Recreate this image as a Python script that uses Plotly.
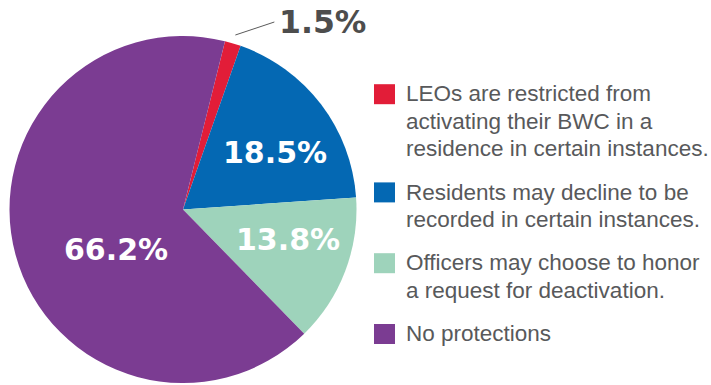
import math
import plotly.graph_objects as go

# Share of responses by type of residence protection
categories = [
    "LEOs are restricted from activating their BWC in a residence in certain instances.",
    "Residents may decline to be recorded in certain instances.",
    "Officers may choose to honor a request for deactivation.",
    "No protections",
]
legend_lines = [
    ["LEOs are restricted from", "activating their BWC in a", "residence in certain instances."],
    ["Residents may decline to be", "recorded in certain instances."],
    ["Officers may choose to honor", "a request for deactivation."],
    ["No protections"],
]
values = [1.5, 18.5, 13.8, 66.2]
colors = ["#e21d38", "#0468b3", "#9ed3bb", "#7b3c92"]

W, H = 711, 385
CX, CY, R = 183, 209.5, 173.5
ROTATION = 14  # degrees clockwise from 12 o'clock where the first slice starts

# Label placement inside each slice: (fraction of the slice's sweep, fraction of radius)
inside_label_place = [None, (0.585, 0.622), (0.406, 0.628), (0.433, 0.45)]

LABEL_FONT = "DejaVu Sans"
LEGEND_FONT = "Liberation Sans"
LEGEND_SIZE = 22.5
LINE_STEP = 27.4
ITEM_GAP = 16.0


def px(x):
    return x / W


def py(y):
    return 1 - y / H


def polar(angle_deg, r):
    a = math.radians(angle_deg)
    return CX + r * math.sin(a), CY - r * math.cos(a)


fig = go.Figure(
    go.Pie(
        labels=categories,
        values=values,
        marker=dict(colors=colors, line=dict(color="white", width=0)),
        sort=False,
        direction="clockwise",
        rotation=ROTATION,
        textinfo="none",
        hoverinfo="label+value",
        showlegend=False,
        domain=dict(x=[px(CX - R), px(CX + R)], y=[py(CY + R), py(CY - R)]),
    )
)

annotations = []
shapes = []

# Angles of every slice, derived from the values
total = sum(values)
start = ROTATION
for i, v in enumerate(values):
    sweep = 360.0 * v / total
    place = inside_label_place[i]
    text = f"{v:.1f}%"
    if place is not None:
        x, y = polar(start + place[0] * sweep, place[1] * R)
        annotations.append(dict(
            x=px(x), y=py(y), xref="paper", yref="paper",
            text=text, showarrow=False, xanchor="center", yanchor="middle",
            font=dict(family=LABEL_FONT, size=30, color="white", weight="bold"),
        ))
    else:
        # small slice: label outside with a leader line
        x0, y0 = polar(start + sweep / 2, R * 1.05)
        x1, y1 = x0 + 39, y0 - 13
        shapes.append(dict(
            type="line", xref="paper", yref="paper",
            x0=px(x0), y0=py(y0), x1=px(x1), y1=py(y1),
            line=dict(color="#5a5a5a", width=1),
        ))
        annotations.append(dict(
            x=px(x1 + 3), y=py(y1), xref="paper", yref="paper",
            text=text, showarrow=False, xanchor="left", yanchor="middle",
            font=dict(family=LABEL_FONT, size=31.5, color="#4d4d4d", weight="bold"),
        ))
    start += sweep

# Legend: colour square plus wrapped text lines
SQ_X0, SQ_X1 = 374, 395
TEXT_X = 404
baseline = 101.7
for i, lines in enumerate(legend_lines):
    shapes.append(dict(
        type="rect", xref="paper", yref="paper",
        x0=px(SQ_X0), x1=px(SQ_X1), y0=py(baseline + 2.5), y1=py(baseline - 17.5),
        fillcolor=colors[i], line=dict(width=0),
    ))
    for j, line in enumerate(lines):
        b = baseline + j * LINE_STEP
        annotations.append(dict(
            x=px(TEXT_X), y=py(b - 7.8), xref="paper", yref="paper",
            text=line, showarrow=False, xanchor="left", yanchor="middle",
            font=dict(family=LEGEND_FONT, size=LEGEND_SIZE, color="#58595b"),
        ))
    baseline += len(lines) * LINE_STEP + ITEM_GAP

fig.update_layout(
    width=W, height=H,
    margin=dict(l=0, r=0, t=0, b=0),
    paper_bgcolor="white", plot_bgcolor="white",
    annotations=annotations, shapes=shapes,
)

fig.write_html("out.html")
